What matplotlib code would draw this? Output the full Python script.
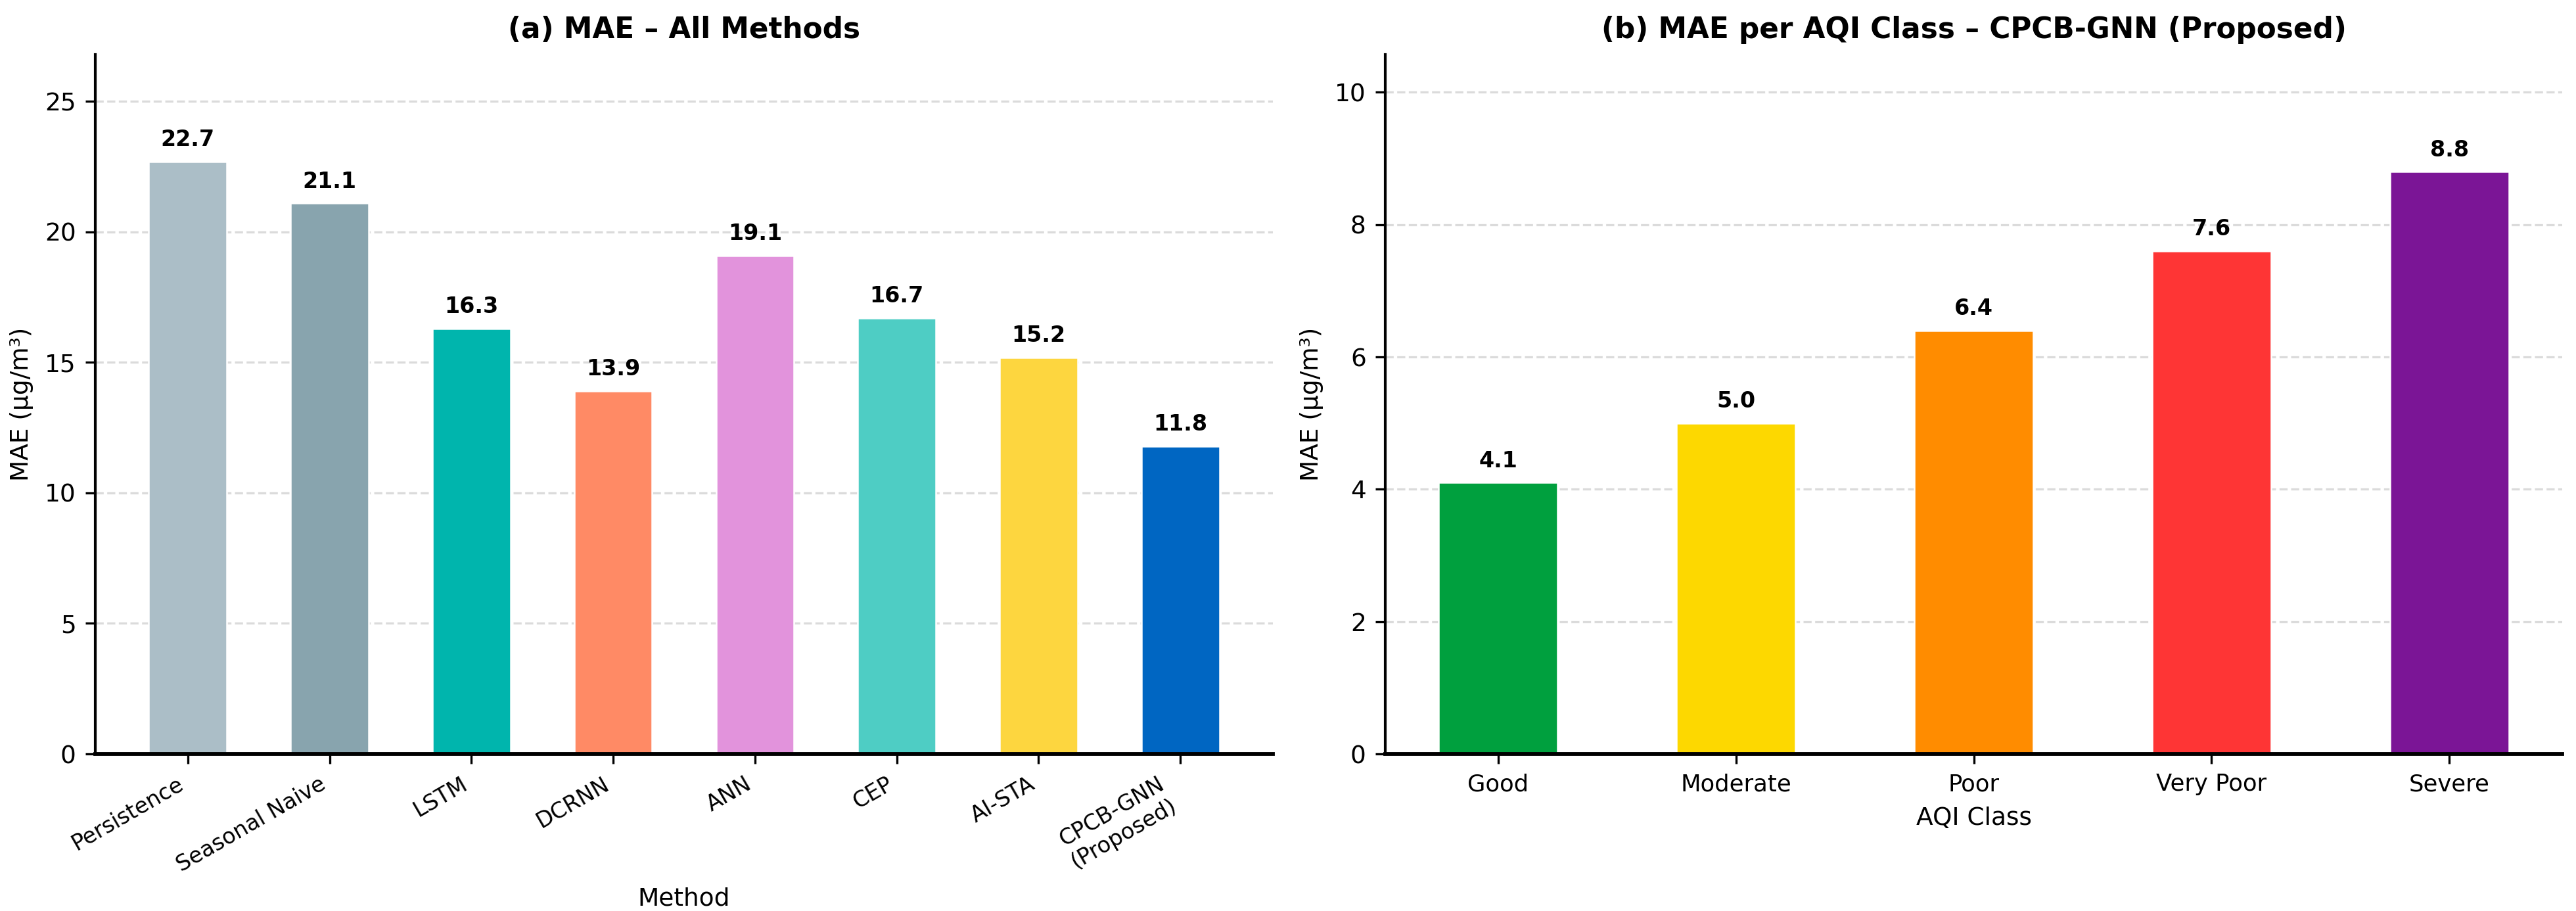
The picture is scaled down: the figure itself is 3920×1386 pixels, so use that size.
import numpy as np
import matplotlib
matplotlib.use('Agg')
import matplotlib.pyplot as plt

methods = ['Persistence', 'Seasonal Naive', 'LSTM', 'DCRNN', 'ANN', 'CEP', 'AI-STA', 'CPCB-GNN\n(Proposed)']
mae_methods = [22.7, 21.1, 16.3, 13.9, 19.1, 16.7, 15.2, 11.8]
method_colors = ['#ABBEC7', '#88A4AE', '#00B5AD', '#FF8A65', '#E293DC', '#4ECDC4', '#FDD63F', '#0066C2']

aqi_classes = ['Good', 'Moderate', 'Poor', 'Very Poor', 'Severe']
mae_aqi = [4.1, 5.0, 6.4, 7.6, 8.8]
aqi_colors = ['#00A03E', '#FDD800', '#FF8C00', '#FE3535', '#7B1596']

W, H, DPI = 3920, 1386, 300
fig = plt.figure(figsize=(W / DPI, H / DPI), dpi=DPI)

ax1 = fig.add_axes([145 / W, 1 - 1147 / H, (1937 - 145) / W, (1147 - 83) / H])
ax2 = fig.add_axes([2108 / W, 1 - 1147 / H, (3899 - 2108) / W, (1147 - 83) / H])


def style(ax):
    ax.spines['top'].set_visible(False)
    ax.spines['right'].set_visible(False)
    ax.spines['left'].set_linewidth(1.0)
    ax.spines['bottom'].set_linewidth(1.4)
    ax.yaxis.grid(True, linestyle='--', color='#cccccc', alpha=0.7, linewidth=0.8)
    ax.set_axisbelow(True)
    ax.tick_params(axis='y', labelsize=9)


def label_bars(ax, bars, vals):
    for b, v in zip(bars, vals):
        ax.annotate(f'{v:.1f}', (b.get_x() + b.get_width() / 2, b.get_height()),
                    xytext=(0, 4), textcoords='offset points',
                    ha='center', va='bottom', fontsize=8, fontweight='bold')


x1 = np.arange(len(methods))
bars1 = ax1.bar(x1, mae_methods, width=0.55, color=method_colors, edgecolor='white', linewidth=0.6)
label_bars(ax1, bars1, mae_methods)
ax1.set_xticks(x1)
ax1.set_xticklabels(methods, rotation=30, ha='right', fontsize=8)
ax1.set_ylim(0, 26.8)
ax1.set_ylabel('MAE (μg/m³)', fontsize=9)
ax1.set_xlabel('Method', fontsize=9)
ax1.set_title('(a) MAE – All Methods', fontsize=10.5, fontweight='bold')
style(ax1)

x2 = np.arange(len(aqi_classes))
bars2 = ax2.bar(x2, mae_aqi, width=0.5, color=aqi_colors, edgecolor='white', linewidth=0.6)
label_bars(ax2, bars2, mae_aqi)
ax2.set_xticks(x2)
ax2.set_xticklabels(aqi_classes, fontsize=8.5)
ax2.set_ylim(0, 10.57)
ax2.set_ylabel('MAE (μg/m³)', fontsize=9)
ax2.set_xlabel('AQI Class', fontsize=9)
ax2.set_title('(b) MAE per AQI Class – CPCB-GNN (Proposed)', fontsize=10.5, fontweight='bold')
style(ax2)

fig.savefig('out.png', dpi=DPI, facecolor='white')
